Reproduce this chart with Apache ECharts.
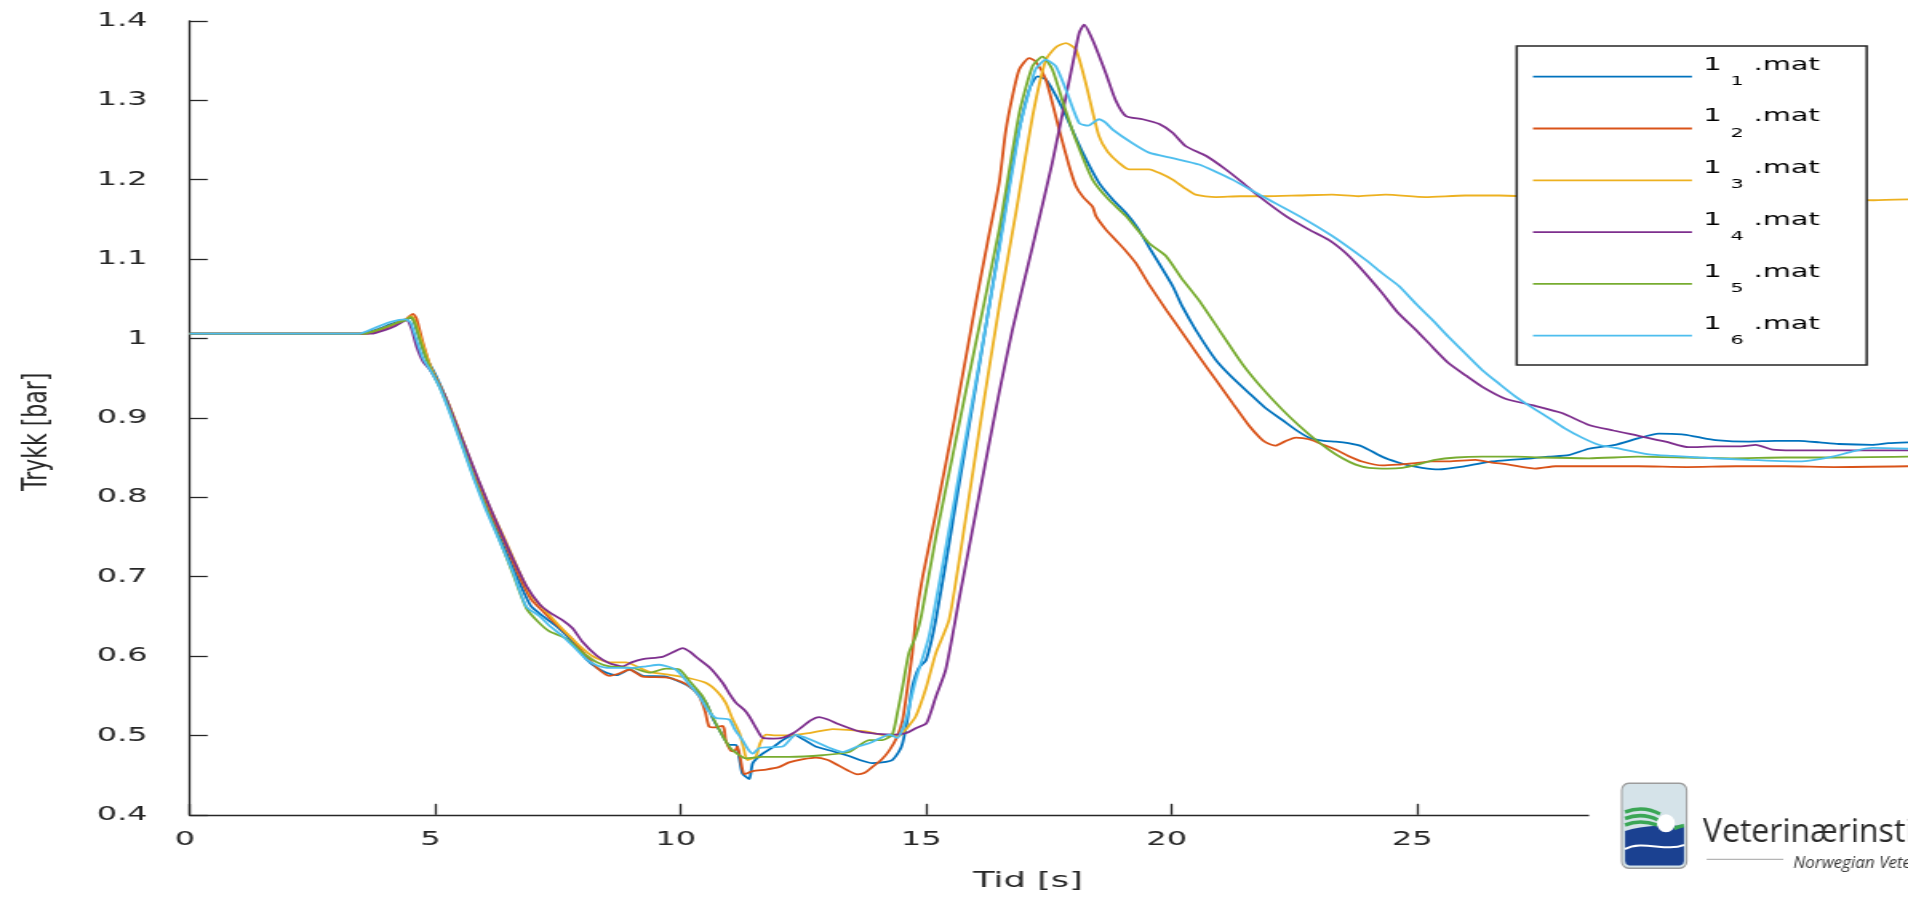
<!DOCTYPE html>
<html>
<head>
<meta charset="utf-8">
<script src="https://cdn.jsdelivr.net/npm/echarts/dist/echarts.min.js"></script>
<style>
html,body{margin:0;padding:0;background:#fff;overflow:hidden;}
#wrap{width:1908px;height:901px;overflow:hidden;position:relative;background:#fff;}
#chart{width:1193px;height:901px;transform-origin:0 0;}
</style>
</head>
<body>
<div id="wrap"><div id="chart"></div></div>
<script>
// ---------- data (time [s], pressure [bar]) ----------
const seriesNames = ['1_1.mat', '1_2.mat', '1_3.mat', '1_4.mat', '1_5.mat', '1_6.mat'];
const xTicks = [0, 5, 10, 15, 20, 25, 30];
const yTicks = [0.4, 0.5, 0.6, 0.7, 0.8, 0.9, 1.0, 1.1, 1.2, 1.3, 1.4];

const s1 = [[0,1.006],[3.5,1.006],[3.8,1.011],[4.1,1.018],[4.4,1.024],[4.52,1.026],[4.62,1.012],[4.8,0.978],[5.0,0.955],[5.25,0.92],[5.5,0.876],[5.8,0.825],[6.1,0.78],[6.4,0.738],[6.7,0.695],[6.95,0.663],[7.2,0.65],[7.5,0.636],[7.8,0.618],[8.08,0.596],[8.3,0.585],[8.49,0.579],[8.7,0.576],[8.96,0.583],[9.23,0.575],[9.7,0.574],[10.11,0.564],[10.35,0.553],[10.52,0.541],[10.65,0.522],[10.79,0.507],[10.99,0.488],[11.13,0.488],[11.2,0.47],[11.26,0.452],[11.4,0.445],[11.47,0.465],[11.67,0.477],[11.9,0.486],[12.08,0.494],[12.31,0.501],[12.5,0.495],[12.75,0.486],[13.1,0.48],[13.43,0.474],[13.7,0.468],[13.9,0.465],[14.1,0.466],[14.31,0.469],[14.45,0.48],[14.52,0.49],[14.62,0.52],[14.72,0.561],[14.85,0.585],[15.0,0.595],[15.2,0.646],[15.6,0.79],[16.0,0.935],[16.49,1.116],[16.83,1.242],[17.1,1.313],[17.27,1.33],[17.44,1.326],[17.65,1.305],[17.85,1.28],[18.19,1.234],[18.52,1.196],[18.8,1.175],[19.07,1.158],[19.3,1.14],[19.54,1.115],[20.02,1.066],[20.22,1.04],[20.5,1.01],[20.9,0.973],[21.2,0.953],[21.58,0.931],[21.9,0.913],[22.26,0.897],[22.55,0.884],[22.8,0.875],[23.1,0.871],[23.34,0.87],[23.6,0.868],[23.88,0.864],[24.29,0.851],[24.6,0.844],[24.83,0.84],[25.1,0.837],[25.44,0.835],[25.98,0.839],[26.53,0.845],[26.9,0.847],[27.34,0.849],[27.68,0.851],[28.09,0.853],[28.5,0.861],[29.04,0.866],[29.5,0.874],[29.92,0.88],[30.4,0.879],[30.7,0.876],[31.08,0.872],[31.76,0.87],[32.3,0.871],[32.78,0.871],[33.2,0.869],[33.59,0.867],[34.27,0.866],[34.6,0.868],[35,0.869]];

const s2 = [[0,1.006],[3.6,1.006],[3.9,1.011],[4.2,1.018],[4.4,1.024],[4.55,1.031],[4.62,1.025],[4.75,0.995],[4.92,0.962],[5.1,0.94],[5.3,0.912],[5.55,0.872],[5.8,0.83],[6.1,0.785],[6.4,0.745],[6.7,0.702],[6.95,0.672],[7.2,0.656],[7.5,0.638],[7.8,0.621],[8.08,0.6],[8.3,0.585],[8.55,0.575],[8.75,0.578],[8.96,0.583],[9.23,0.574],[9.7,0.573],[10.0,0.568],[10.18,0.562],[10.38,0.549],[10.5,0.53],[10.58,0.511],[10.72,0.51],[10.85,0.512],[10.89,0.508],[10.92,0.494],[11.02,0.481],[11.1,0.48],[11.16,0.486],[11.22,0.47],[11.3,0.451],[11.47,0.455],[11.74,0.457],[12.0,0.46],[12.21,0.466],[12.5,0.47],[12.75,0.472],[13.0,0.469],[13.16,0.464],[13.4,0.456],[13.6,0.451],[13.75,0.453],[13.9,0.46],[14.1,0.47],[14.25,0.481],[14.4,0.497],[14.52,0.519],[14.62,0.56],[14.72,0.604],[14.79,0.646],[14.93,0.7],[15.2,0.78],[15.6,0.905],[16.0,1.04],[16.25,1.12],[16.49,1.196],[16.62,1.26],[16.76,1.305],[16.9,1.339],[17.1,1.353],[17.23,1.349],[17.44,1.326],[17.71,1.263],[17.9,1.22],[18.05,1.192],[18.2,1.178],[18.39,1.166],[18.46,1.154],[18.65,1.138],[18.86,1.124],[19.07,1.11],[19.27,1.095],[19.54,1.068],[19.9,1.035],[20.22,1.007],[20.55,0.978],[20.9,0.948],[21.25,0.918],[21.58,0.89],[21.8,0.875],[21.92,0.869],[22.12,0.865],[22.3,0.87],[22.53,0.875],[22.8,0.873],[23.05,0.867],[23.34,0.86],[23.6,0.852],[23.88,0.845],[24.29,0.84],[24.6,0.841],[24.97,0.843],[25.3,0.845],[25.64,0.845],[26.19,0.847],[26.5,0.844],[26.87,0.841],[27.41,0.836],[27.82,0.839],[28.7,0.839],[29.5,0.839],[30.5,0.838],[31.5,0.839],[32.5,0.839],[33.5,0.838],[35,0.839]];

const s3 = [[0,1.006],[3.55,1.006],[3.9,1.012],[4.2,1.019],[4.4,1.024],[4.52,1.028],[4.6,1.02],[4.75,0.992],[4.92,0.962],[5.1,0.94],[5.3,0.914],[5.55,0.874],[5.8,0.833],[6.1,0.789],[6.4,0.75],[6.7,0.708],[6.95,0.677],[7.2,0.66],[7.5,0.64],[7.87,0.617],[8.2,0.6],[8.55,0.592],[8.89,0.592],[9.1,0.587],[9.36,0.58],[9.8,0.576],[10.18,0.572],[10.52,0.566],[10.75,0.555],[10.92,0.541],[11.05,0.522],[11.2,0.503],[11.28,0.485],[11.36,0.469],[11.53,0.473],[11.62,0.49],[11.74,0.501],[11.9,0.5],[12.21,0.5],[12.62,0.503],[13.1,0.508],[13.4,0.507],[13.77,0.505],[14.0,0.502],[14.25,0.499],[14.45,0.499],[14.62,0.51],[14.79,0.524],[15.0,0.56],[15.2,0.604],[15.47,0.646],[15.8,0.77],[16.15,0.91],[16.49,1.04],[16.83,1.158],[17.17,1.28],[17.44,1.351],[17.65,1.367],[17.85,1.372],[18.05,1.364],[18.25,1.322],[18.52,1.255],[18.7,1.235],[18.93,1.221],[19.13,1.213],[19.54,1.213],[19.8,1.207],[20.02,1.2],[20.25,1.19],[20.49,1.181],[20.9,1.178],[21.4,1.179],[21.92,1.179],[22.6,1.18],[23.27,1.181],[23.8,1.179],[24.36,1.181],[25.17,1.178],[25.98,1.18],[26.67,1.18],[27.5,1.178],[28.5,1.177],[29.5,1.178],[30.5,1.176],[31.5,1.177],[32.5,1.175],[33.5,1.175],[34.3,1.174],[35,1.175]];

const s4 = [[0,1.006],[3.7,1.006],[4.0,1.011],[4.2,1.016],[4.42,1.023],[4.52,1.012],[4.62,0.99],[4.76,0.97],[4.89,0.961],[5.05,0.945],[5.23,0.923],[5.5,0.881],[5.77,0.839],[6.05,0.797],[6.32,0.759],[6.59,0.722],[6.86,0.688],[7.13,0.665],[7.33,0.655],[7.6,0.645],[7.8,0.635],[8.0,0.618],[8.3,0.6],[8.55,0.591],[8.82,0.587],[9.0,0.592],[9.23,0.596],[9.63,0.599],[9.85,0.605],[10.04,0.61],[10.2,0.605],[10.31,0.599],[10.6,0.585],[10.86,0.566],[11.0,0.552],[11.13,0.541],[11.3,0.532],[11.4,0.524],[11.55,0.508],[11.67,0.497],[11.9,0.496],[12.08,0.497],[12.3,0.503],[12.48,0.511],[12.65,0.519],[12.82,0.523],[13.0,0.52],[13.23,0.514],[13.64,0.505],[14.0,0.502],[14.38,0.501],[14.6,0.503],[14.79,0.509],[15.0,0.515],[15.1,0.53],[15.2,0.549],[15.4,0.583],[15.7,0.68],[16.2,0.84],[16.5,0.935],[16.76,1.011],[17.17,1.116],[17.57,1.221],[17.85,1.305],[18.0,1.35],[18.12,1.385],[18.22,1.395],[18.39,1.376],[18.66,1.334],[18.86,1.3],[19.07,1.28],[19.41,1.276],[19.75,1.27],[20.02,1.259],[20.29,1.242],[20.7,1.23],[21.1,1.213],[21.45,1.196],[21.78,1.179],[22.33,1.154],[22.8,1.137],[23.2,1.124],[23.5,1.11],[23.75,1.095],[24.0,1.078],[24.29,1.057],[24.6,1.033],[24.97,1.011],[25.3,0.99],[25.64,0.969],[26.0,0.953],[26.33,0.939],[26.8,0.924],[27.34,0.916],[27.95,0.906],[28.5,0.891],[29.0,0.884],[29.38,0.879],[30.06,0.87],[30.53,0.863],[31.08,0.864],[31.6,0.864],[31.9,0.866],[32.24,0.86],[32.65,0.859],[33.5,0.859],[34.3,0.859],[35,0.859]];

const s5 = [[0,1.006],[3.55,1.006],[3.9,1.012],[4.2,1.019],[4.4,1.023],[4.5,1.027],[4.58,1.02],[4.72,0.992],[4.9,0.962],[5.1,0.938],[5.3,0.908],[5.55,0.866],[5.8,0.823],[6.05,0.785],[6.32,0.745],[6.59,0.703],[6.86,0.66],[7.1,0.643],[7.33,0.631],[7.67,0.622],[8.01,0.604],[8.3,0.592],[8.55,0.587],[9.02,0.585],[9.36,0.579],[9.7,0.584],[9.97,0.583],[10.2,0.567],[10.45,0.549],[10.72,0.515],[10.99,0.486],[11.15,0.477],[11.33,0.471],[11.67,0.473],[12.21,0.473],[12.89,0.475],[13.43,0.479],[13.84,0.494],[14.11,0.494],[14.31,0.501],[14.42,0.53],[14.52,0.561],[14.65,0.604],[14.79,0.625],[14.9,0.65],[15.2,0.75],[15.6,0.87],[16.0,0.99],[16.49,1.137],[16.9,1.284],[17.17,1.343],[17.37,1.355],[17.57,1.339],[17.8,1.295],[18.05,1.25],[18.39,1.2],[18.7,1.176],[19.07,1.154],[19.54,1.12],[19.88,1.104],[20.2,1.076],[20.56,1.048],[21.0,1.008],[21.44,0.968],[21.85,0.937],[22.26,0.91],[22.6,0.89],[22.94,0.872],[23.2,0.86],[23.48,0.849],[23.75,0.841],[24.02,0.837],[24.4,0.836],[24.7,0.837],[25.0,0.841],[25.37,0.847],[25.8,0.85],[26.33,0.851],[27.0,0.851],[27.5,0.85],[28.5,0.849],[29.5,0.851],[30.5,0.85],[31.4,0.849],[32.5,0.85],[33.5,0.85],[35,0.851]];

const s6 = [[0,1.006],[3.45,1.006],[3.8,1.014],[4.1,1.021],[4.4,1.024],[4.5,1.02],[4.6,1.002],[4.75,0.975],[4.92,0.958],[5.1,0.937],[5.3,0.906],[5.55,0.864],[5.8,0.821],[6.05,0.782],[6.32,0.744],[6.59,0.705],[6.86,0.662],[7.13,0.65],[7.33,0.638],[7.6,0.625],[7.85,0.61],[8.08,0.596],[8.3,0.588],[8.55,0.585],[9.0,0.585],[9.3,0.587],[9.56,0.589],[9.9,0.583],[10.15,0.566],[10.38,0.549],[10.55,0.532],[10.72,0.522],[10.99,0.52],[11.1,0.508],[11.26,0.494],[11.38,0.482],[11.47,0.477],[11.6,0.484],[11.74,0.485],[12.08,0.486],[12.35,0.501],[12.55,0.497],[12.75,0.492],[13.0,0.485],[13.3,0.479],[13.6,0.486],[13.84,0.49],[14.05,0.496],[14.25,0.501],[14.42,0.497],[14.5,0.505],[14.59,0.52],[14.79,0.57],[15.06,0.625],[15.5,0.77],[16.0,0.94],[16.49,1.112],[16.9,1.263],[17.05,1.3],[17.23,1.339],[17.44,1.351],[17.64,1.343],[17.85,1.313],[18.12,1.271],[18.3,1.268],[18.52,1.276],[18.65,1.272],[18.8,1.263],[19.2,1.246],[19.54,1.234],[20.02,1.227],[20.56,1.219],[20.9,1.21],[21.24,1.2],[21.85,1.179],[22.6,1.154],[23.27,1.129],[23.95,1.099],[24.29,1.082],[24.63,1.066],[24.97,1.044],[25.3,1.024],[25.64,1.002],[26.0,0.98],[26.33,0.96],[26.67,0.943],[27.0,0.927],[27.34,0.913],[27.68,0.9],[28.0,0.887],[28.36,0.875],[28.7,0.866],[29.04,0.862],[29.72,0.854],[30.2,0.852],[30.74,0.85],[31.76,0.847],[32.78,0.845],[33.1,0.847],[33.46,0.851],[33.9,0.858],[34.27,0.862],[35,0.861]];

const seriesData = [s1, s2, s3, s4, s5, s6];
const colors = ['#0072BD', '#D95319', '#EDB120', '#7E2F8E', '#77AC30', '#4DBEEE'];

// ---------- layout (the original figure is stretched horizontally) ----------
const CW = 1193, CH = 901;
const K = 1908 / CW;              // horizontal stretch factor
const X = v => v / K;             // full-picture px -> chart px (horizontal)
const el = document.getElementById('chart');
el.style.transform = 'scaleX(' + K + ')';

const chart = echarts.init(el, null, { width: CW, height: CH, renderer: 'canvas' });
const FONT = 'DejaVu Sans';
const AX = '#262626';
const GREEN = '#3aa655';

function arc(x1, y1, cx, cy, x2, y2, color, w) {
  return { type: 'bezierCurve', z: 33, shape: { x1: x1, y1: y1, cpx1: cx, cpy1: cy, x2: x2, y2: y2 },
           style: { fill: null, stroke: color, lineWidth: w } };
}

const option = {
  animation: false,
  backgroundColor: '#ffffff',
  textStyle: { fontFamily: FONT },
  grid: { left: X(189.6), top: 20.8, width: X(1720), height: 794 },
  xAxis: {
    type: 'value', min: 0, max: 35, interval: 5,
    axisLine: { show: true, onZero: false, lineStyle: { color: AX, width: 1.4 } },
    axisTick: { show: true, inside: true, length: 11, lineStyle: { color: AX, width: 1.3 } },
    axisLabel: { color: AX, fontSize: 20, fontFamily: FONT, margin: 15, showMaxLabel: false, padding: [0, 6, 0, 0],
                 formatter: v => xTicks.indexOf(v) >= 0 ? String(v) : '' },
    splitLine: { show: false },
    name: 'Tid [s]', nameLocation: 'middle', nameGap: 55,
    nameTextStyle: { fontSize: 22, color: AX, fontFamily: FONT, padding: [0, 26, 0, 0] }
  },
  yAxis: {
    type: 'value', min: 0.4, max: 1.4, interval: 0.1,
    axisLine: { show: true, lineStyle: { color: AX, width: 1.3 } },
    axisTick: { show: true, inside: true, length: X(18), lineStyle: { color: AX, width: 1.3 } },
    axisLabel: { color: AX, fontSize: 20, fontFamily: FONT, margin: X(42), padding: [0, 0, 10, 0],
                 formatter: v => { const t = yTicks.find(a => Math.abs(a - v) < 1e-6); return t === undefined ? '' : String(+t.toFixed(1)); } },
    splitLine: { show: false },
    name: 'Trykk [bar]', nameLocation: 'middle', nameGap: 84,
    nameTextStyle: { fontSize: 22, color: AX, fontFamily: FONT, padding: [0, 28, 0, 0] }
  },
  legend: {
    orient: 'vertical', left: X(1533), top: 53.7, padding: 0,
    icon: 'rect', itemWidth: X(159), itemHeight: 1.8, itemGap: 5.8,
    z: 20,
    data: seriesNames,
    formatter: n => {
      const m = n.match(/^(\d+)_(\d+)(.*)$/);
      return m ? '{f|' + m[1] + '}{s|' + m[2] + '}{a|' + m[3] + '}' : n;
    },
    textStyle: {
      fontFamily: FONT, color: '#000', lineHeight: 46,
      rich: {
        f: { fontSize: 18, lineHeight: 46, padding: [2.3, 0, 0, 2], verticalAlign: 'top', color: '#000', fontFamily: FONT },
        a: { fontSize: 18, lineHeight: 46, padding: [2.3, 0, 0, 0], verticalAlign: 'top', color: '#000', fontFamily: FONT },
        s: { fontSize: 13, lineHeight: 46, padding: [21.2, 6.4, 0, 5.5], verticalAlign: 'top', color: '#000', fontFamily: FONT }
      }
    }
  },
  graphic: [
    { type: 'rect', z: 10, shape: { x: X(1516.7), y: 46, width: X(350), height: 319 },
      style: { fill: '#ffffff', stroke: AX, lineWidth: 1.5 } },
    { type: 'group', x: X(1580), y: 760, scaleX: 1 / K, z: 30, children: [
      { type: 'rect', z: 30, shape: { x: 9, y: 0, width: 345, height: 141 }, style: { fill: '#ffffff' } },
      { type: 'rect', z: 31, shape: { x: 41.7, y: 23.3, width: 65, height: 85, r: 7 },
        style: { fill: '#d5e3e9', stroke: '#9c9c9c', lineWidth: 1.6 } },
      { type: 'polygon', z: 32, shape: { points: [[45,71],[52,69],[60,67.5],[68,66.4],[76,65.8],[84,65.6],[92,65.6],[104,66],[104,101],[103,104],[100,105.5],[49,105.5],[46,104],[45,101]] },
        style: { fill: '#1b4191' } },
      arc(45, 52, 63, 45, 80, 54, GREEN, 3.6),
      arc(45, 58.5, 62, 52, 78, 60, GREEN, 3.6),
      arc(45, 65, 60, 59, 77, 65, GREEN, 3.6),
      arc(94, 68.5, 99, 66.5, 104, 65.5, GREEN, 3.6),
      { type: 'circle', z: 34, shape: { cx: 86, cy: 63.3, r: 9 }, style: { fill: '#ffffff' } },
      { type: 'bezierCurve', z: 34, shape: { x1: 45, y1: 89, cpx1: 62, cpy1: 80, cpx2: 86, cpy2: 92, x2: 104, y2: 85 },
        style: { fill: null, stroke: '#ffffff', lineWidth: 2 } },
      { type: 'text', z: 35, style: { text: 'Veterinærinstituttet', x: 123, y: 73, fontSize: 32, fontFamily: 'Open Sans', fill: '#2a2a2a', verticalAlign: 'middle', align: 'left' } },
      { type: 'line', z: 35, shape: { x1: 126.7, y1: 99.3, x2: 203.3, y2: 99.3 }, style: { stroke: '#8c8c8c', lineWidth: 1 } },
      { type: 'text', z: 35, style: { text: 'Norwegian Veterinary Institute', x: 213.3, y: 103.5, fontSize: 17, fontStyle: 'italic', fontFamily: 'Open Sans', fill: '#333333', verticalAlign: 'middle', align: 'left' } }
    ] }
  ],
  series: seriesNames.map((n, i) => ({
    type: 'line', name: n, data: seriesData[i],
    symbol: 'none', smooth: 0.2, clip: true,
    lineStyle: { width: 1.8, color: colors[i] },
    itemStyle: { color: colors[i] },
    emphasis: { disabled: true }
  }))
};
chart.setOption(option);
</script>
</body>
</html>
